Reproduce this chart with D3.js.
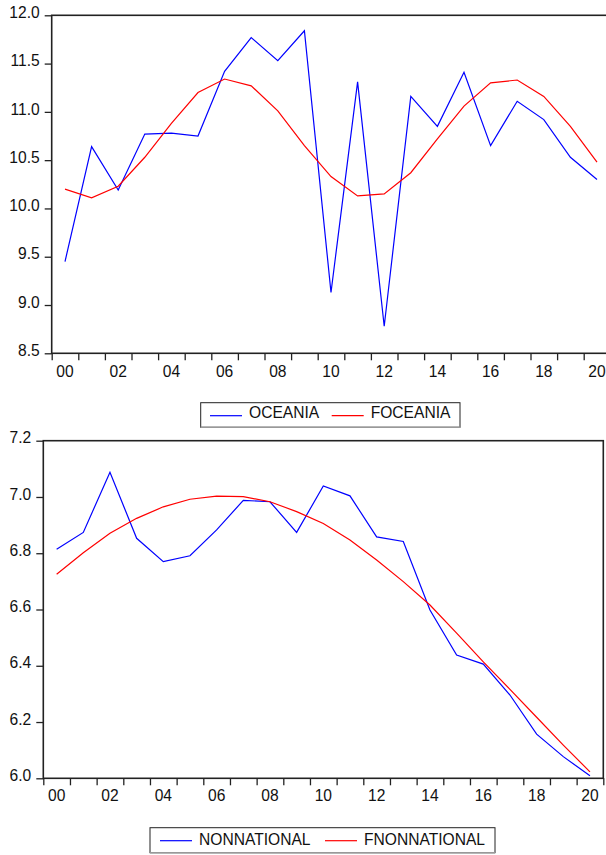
<!DOCTYPE html>
<html>
<head>
<meta charset="utf-8">
<script src="https://cdn.jsdelivr.net/npm/d3@7"></script>
<style>
  body { margin: 0; background: #fff; }
  text { font-family: "Liberation Sans", Arial, sans-serif; fill: #111; }
</style>
</head>
<body>
<svg id="chart"></svg>
<script>
let w = 606;
let h = 855;
let fontSize = '15.6px';

// years 2000..2020, one band each
let years = ["00","01","02","03","04","05","06","07","08","09","10",
             "11","12","13","14","15","16","17","18","19","20"];
let xLabels = ["00","02","04","06","08","10","12","14","16","18","20"];

let oceania = [9.45, 10.64, 10.19, 10.77, 10.78, 10.75, 11.42, 11.77, 11.53, 11.84,
               9.13, 11.31, 8.78, 11.16, 10.85, 11.41, 10.65, 11.11, 10.92, 10.53, 10.30];
let foceania = [10.20, 10.11, 10.23, 10.53, 10.88, 11.20, 11.34, 11.27, 11.01, 10.65,
                10.33, 10.13, 10.15, 10.37, 10.72, 11.06, 11.30, 11.33, 11.16, 10.85, 10.48];
let yTicksTop = [8.5, 9.0, 9.5, 10.0, 10.5, 11.0, 11.5, 12.0];

let nonnational = [6.814, 6.874, 7.088, 6.853, 6.770, 6.791, 6.883, 6.988, 6.983, 6.874,
                   7.039, 7.004, 6.858, 6.842, 6.598, 6.438, 6.406, 6.296, 6.157, 6.077, 6.009];
let fnonnational = [6.725, 6.802, 6.871, 6.924, 6.965, 6.992, 7.003, 7.001, 6.983, 6.948,
                    6.906, 6.847, 6.776, 6.699, 6.616, 6.516, 6.414, 6.316, 6.217, 6.118, 6.023];
let yTicksBottom = [6.0, 6.2, 6.4, 6.6, 6.8, 7.0, 7.2];

let svg = d3.select('#chart').attr('width', w).attr('height', h);
svg.append('rect').attr('width', w).attr('height', h).attr('fill', '#fff');

function drawPanel(p) {
  let xScale = d3.scaleBand().domain(years).range([p.left, p.right]);
  let xEdge = d3.scaleLinear().domain([0, years.length]).range([p.left, p.right]);
  let yScale = d3.scaleLinear().domain(p.yDomain).range([p.bottom, p.top]);

  let g = svg.append('g');

  // frame
  g.append('rect')
    .attr('x', p.left).attr('y', p.top)
    .attr('width', p.right - p.left).attr('height', p.bottom - p.top)
    .attr('fill', 'none').attr('stroke', '#222').attr('stroke-width', 1.6);

  // x ticks on the band edges
  let xTickAxis = d3.axisBottom(xEdge)
    .tickValues(d3.range(0, years.length + 1))
    .tickSize(7).tickFormat('');
  let xt = g.append('g').attr('transform', `translate(0, ${p.bottom})`).call(xTickAxis);
  xt.select('.domain').remove();
  xt.selectAll('line').attr('stroke', '#222').attr('stroke-width', 1.3);

  // x labels in the middle of the bands
  let xLabelAxis = d3.axisBottom(xScale).tickValues(xLabels).tickSize(0).tickPadding(p.xPad);
  let xl = g.append('g').attr('transform', `translate(0, ${p.bottom})`).call(xLabelAxis);
  xl.select('.domain').remove();
  xl.selectAll('text').style('font-size', fontSize)
    .style('font-family', '"Liberation Sans", Arial, sans-serif').attr('fill', '#111');

  let yAxis = d3.axisLeft(yScale).tickValues(p.yTicks).tickSize(7).tickPadding(5)
    .tickFormat(d3.format('.1f'));
  let ya = g.append('g').attr('transform', `translate(${p.left}, 0)`).call(yAxis);
  ya.select('.domain').remove();
  ya.selectAll('line').attr('stroke', '#222').attr('stroke-width', 1.3);
  ya.selectAll('text').style('font-size', fontSize).attr('dy', '0.14em')
    .style('font-family', '"Liberation Sans", Arial, sans-serif').attr('fill', '#111');

  let line = d3.line()
    .x((d, i) => xScale(years[i]) + xScale.bandwidth() / 2)
    .y((d) => yScale(d));

  p.series.forEach((s) => {
    g.append('path')
      .datum(s.values)
      .attr('fill', 'none')
      .attr('stroke', s.color)
      .attr('stroke-width', 1.2)
      .attr('d', line);
  });

  // legend
  let lg = svg.append('g');
  lg.append('rect')
    .attr('x', p.legend.x).attr('y', p.legend.y)
    .attr('width', p.legend.w).attr('height', p.legend.h)
    .attr('fill', '#fff').attr('stroke', '#222').attr('stroke-width', 1);
  lg.append('line')
    .attr('x1', p.legend.x).attr('x2', p.legend.x + p.legend.w)
    .attr('y1', p.legend.y + p.legend.h).attr('y2', p.legend.y + p.legend.h)
    .attr('stroke', '#999').attr('stroke-width', 1.5);
  p.series.forEach((s, i) => {
    let lx = p.legend.items[i];
    lg.append('line')
      .attr('x1', lx).attr('x2', lx + 32)
      .attr('y1', p.legend.lineY).attr('y2', p.legend.lineY)
      .attr('stroke', s.color).attr('stroke-width', 1.2);
    lg.append('text')
      .attr('x', lx + 39).attr('y', p.legend.textY)
      .style('font-size', fontSize)
      .text(s.name);
  });
}

drawPanel({
  left: 51.7, right: 610.3, top: 15.3, bottom: 353.3,
  yDomain: [8.5, 12.0], yTicks: yTicksTop, xPad: 13,
  series: [
    {name: 'OCEANIA', values: oceania, color: '#0000ff'},
    {name: 'FOCEANIA', values: foceania, color: '#ff0000'}
  ],
  legend: {x: 200.7, y: 402.7, w: 259.3, h: 24.6, items: [210, 331.7], lineY: 415.7, textY: 417.5}
});

drawPanel({
  left: 43.3, right: 603.3, top: 440.7, bottom: 778.3,
  yDomain: [6.0, 7.2], yTicks: yTicksBottom, xPad: 12,
  series: [
    {name: 'NONNATIONAL', values: nonnational, color: '#0000ff'},
    {name: 'FNONNATIONAL', values: fnonnational, color: '#ff0000'}
  ],
  legend: {x: 150, y: 827.7, w: 345, h: 25, items: [160, 325], lineY: 840.7, textY: 844.5}
});
</script>
</body>
</html>
